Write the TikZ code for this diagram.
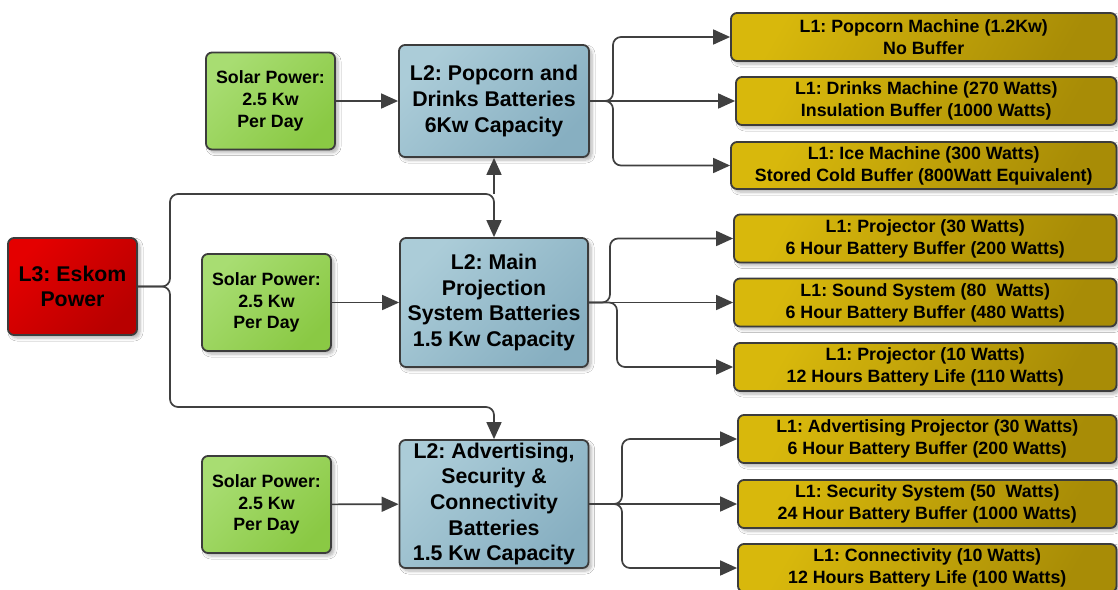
\documentclass[tikz,border=0pt]{standalone}
\usepackage{fontspec}
\setmainfont{Liberation Sans}
\usetikzlibrary{arrows.meta,shadows.blur}
\frenchspacing

\definecolor{edgecol}{HTML}{3C3C3C}
\definecolor{linecol}{HTML}{404040}
\definecolor{redA}{HTML}{E40000}
\definecolor{redB}{HTML}{B80000}
\definecolor{grnA}{HTML}{A8DD72}
\definecolor{grnB}{HTML}{8AC944}
\definecolor{bluA}{HTML}{ABCCD8}
\definecolor{bluB}{HTML}{87AFC1}
\definecolor{yelA}{HTML}{D8B80C}
\definecolor{yelB}{HTML}{A88C06}

\tikzset{
  box/.style={draw=edgecol, line width=1.8pt, rounded corners=6pt, inner sep=0pt,
    align=center,
    blur shadow={shadow xshift=3pt, shadow yshift=-3pt, shadow blur steps=6,
      shadow opacity=30, shadow blur radius=3pt}},
  bigtext/.style={font=\fontsize{21.3}{25.6}\selectfont\bfseries},
  smalltext/.style={font=\fontsize{17.8}{21.8}\selectfont\bfseries},
  gridbox/.style={box, bigtext, top color=redA, bottom color=redB, shading angle=45,
    minimum width=129pt, minimum height=97pt},
  solarbox/.style={box, smalltext, top color=grnA, bottom color=grnB, shading angle=45,
    minimum width=129pt, minimum height=97pt},
  battbox/.style={box, bigtext, top color=bluA, bottom color=bluB, shading angle=45},
  loadbox/.style={box, smalltext, top color=yelA, bottom color=yelB, shading angle=60,
    minimum height=48pt},
  headtip/.tip={Triangle[length=17pt,width=15pt]},
  wire/.style={draw=linecol, line width=1.7pt},
  arr/.style={wire, -headtip},
  elbow/.style={rounded corners=8pt},
}

\begin{document}
\begin{tikzpicture}[x=1pt,y=-1pt]
\clip (0,0) rectangle (1118,589);
\fill[white] (0,0) rectangle (1118,589);

% grid supply
\node[gridbox] (esk) at (72.5,286.5) {L3: Eskom\\Power};

% solar feeds
\node[solarbox] (s1) at (270.5,101) {Solar Power:\\2.5 Kw\\Per Day};
\node[solarbox] (s2) at (266.5,302.5) {Solar Power:\\2.5 Kw\\Per Day};
\node[solarbox] (s3) at (266.5,504.5) {Solar Power:\\2.5 Kw\\Per Day};

% battery banks
\node[battbox, minimum width=190pt, minimum height=112pt] (b1) at (494,101)
  {L2: Popcorn and\\Drinks Batteries\\6Kw Capacity};
\node[battbox, minimum width=188pt, minimum height=129pt] (b2) at (494,302.5)
  {L2: Main\\Projection\\System Batteries\\1.5 Kw Capacity};
\node[battbox, minimum width=189pt, minimum height=128pt] (b3) at (494,504)
  {L2: Advertising,\\Security \&\\Connectivity\\Batteries\\1.5 Kw Capacity};

% loads
\node[loadbox, minimum width=385.5pt] (y1) at (923.75,37) {L1: Popcorn Machine (1.2Kw)\\No Buffer};
\node[loadbox, minimum width=380.5pt] (y2) at (926.25,101) {L1: Drinks Machine (270 Watts)\\Insulation Buffer (1000 Watts)};
\node[loadbox, minimum width=385.5pt, minimum height=47pt] (y3) at (923.75,165.5) {L1: Ice Machine (300 Watts)\\Stored Cold Buffer (800Watt Equivalent)};
\node[loadbox, minimum width=382.5pt] (y4) at (925.25,238.5) {L1: Projector (30 Watts)\\6 Hour Battery Buffer (200 Watts)};
\node[loadbox, minimum width=382.5pt] (y5) at (925.25,302.5) {L1: Sound System (80\ \ Watts)\\6 Hour Battery Buffer (480 Watts)};
\node[loadbox, minimum width=382.5pt] (y6) at (925.25,367) {L1: Projector (10 Watts)\\12 Hours Battery Life (110 Watts)};
\node[loadbox, minimum width=378.5pt] (y7) at (927.25,439) {L1: Advertising Projector (30 Watts)\\6 Hour Battery Buffer (200 Watts)};
\node[loadbox, minimum width=378.5pt] (y8) at (927.25,504) {L1: Security System (50\ \ Watts)\\24 Hour Battery Buffer (1000 Watts)};
\node[loadbox, minimum width=378.5pt] (y9) at (927.25,568) {L1: Connectivity (10 Watts)\\12 Hours Battery Life (100 Watts)};

% solar to batteries
\draw[arr] (s1) -- (b1);
\draw[arr] (s2) -- (b2);
\draw[arr] (s3) -- (b3);

% grid distribution
\coordinate (jt) at (494,194);
\draw[arr] (esk.east) [elbow] -- (170,286.5) -- (170,194) -- (jt) [sharp corners] -- (b2.north);
\draw[arr] (jt) -- (b1.south);
\draw[arr] (esk.east) [elbow] -- (170,286.5) -- (170,407) -- (494,407) [sharp corners] -- (b3.north);

% batteries to loads
\draw[arr] (b1.east) [elbow] -- (613,101) -- (613,37) [sharp corners] -- (y1.west);
\draw[arr] (b1.east) -- (y2.west);
\draw[arr] (b1.east) [elbow] -- (613,101) -- (613,165.5) [sharp corners] -- (y3.west);

\draw[arr] (b2.east) [elbow] -- (610,302.5) -- (610,238.5) [sharp corners] -- (y4.west);
\draw[arr] (b2.east) -- (y5.west);
\draw[arr] (b2.east) [elbow] -- (617,302.5) -- (617,367) [sharp corners] -- (y6.west);

\draw[arr] (b3.east) [elbow] -- (622,504) -- (622,439) [sharp corners] -- (y7.west);
\draw[arr] (b3.east) -- (y8.west);
\draw[arr] (b3.east) [elbow] -- (622,504) -- (622,568) [sharp corners] -- (y9.west);
\end{tikzpicture}
\end{document}
